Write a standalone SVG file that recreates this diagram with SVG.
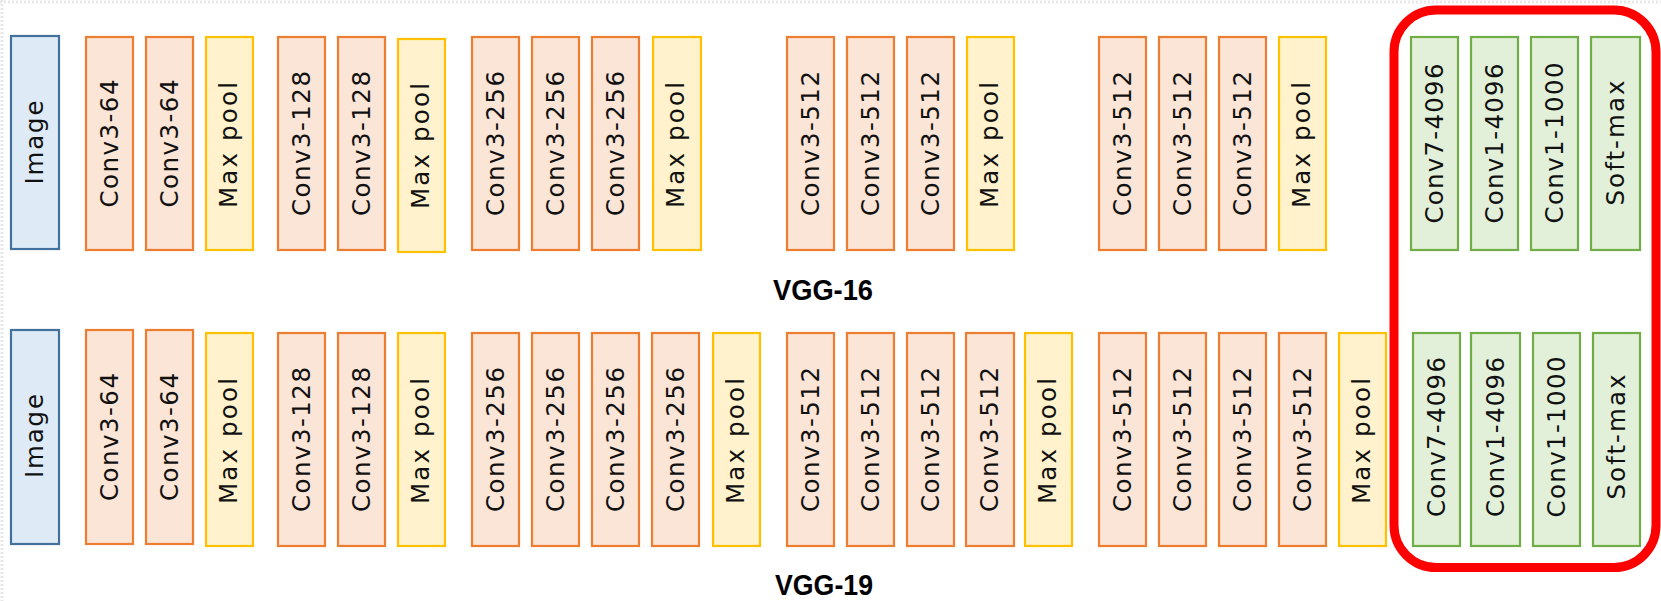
<svg xmlns="http://www.w3.org/2000/svg" width="1661" height="601" viewBox="0 0 1661 601">
<style>
  .conv rect{fill:#FBE5D6;stroke:#ED7D31;stroke-width:2.2}
  .pool rect{fill:#FFF2CC;stroke:#FFC000;stroke-width:2.2}
  .img rect{fill:#DEEBF7;stroke:#41719C;stroke-width:2.2}
  .fc rect{fill:#E2F0D9;stroke:#70AD47;stroke-width:2.2}
  text.lbl{font-family:"DejaVu Sans","Liberation Sans",Arial,sans-serif;font-size:24.5px;fill:#111;text-anchor:middle}
  text.title{font-family:"Liberation Sans",Arial,sans-serif;font-size:29px;font-weight:bold;fill:#000;text-anchor:middle}
  .frame{fill:none;stroke:#FF0000;stroke-width:9}
  .edge{stroke:#e8e8e8;stroke-width:3;stroke-dasharray:2 2;fill:none}
</style>
<rect x="0" y="0" width="1661" height="601" fill="#ffffff"/>
<g id="border-artifacts">
  <line class="edge" x1="0" y1="2" x2="1661" y2="2"/>
  <line class="edge" x1="2" y1="0" x2="2" y2="601"/>
</g>

<!-- VGG-16 row -->
<g id="vgg16">
  <g id="r1-image" class="img"><rect x="11" y="36" width="48" height="213"/><text class="lbl" transform="translate(35,142.5) rotate(-90)" y="8" textLength="84" lengthAdjust="spacing">Image</text></g>
  <g id="r1-c1" class="conv"><rect x="86" y="37" width="47" height="213"/><text class="lbl" transform="translate(109.5,143.5) rotate(-90)" y="8" textLength="128" lengthAdjust="spacing">Conv3-64</text></g>
  <g id="r1-c2" class="conv"><rect x="146" y="37" width="47" height="213"/><text class="lbl" transform="translate(169.5,143.5) rotate(-90)" y="8" textLength="128" lengthAdjust="spacing">Conv3-64</text></g>
  <g id="r1-p1" class="pool"><rect x="206" y="37" width="47" height="213"/><text class="lbl" transform="translate(229.5,145) rotate(-90)" y="7" textLength="126" lengthAdjust="spacing">Max pool</text></g>
  <g id="r1-c3" class="conv"><rect x="278" y="37" width="47" height="213"/><text class="lbl" transform="translate(301.5,143.5) rotate(-90)" y="8" textLength="145" lengthAdjust="spacing">Conv3-128</text></g>
  <g id="r1-c4" class="conv"><rect x="338" y="37" width="47" height="213"/><text class="lbl" transform="translate(361.5,143.5) rotate(-90)" y="8" textLength="145" lengthAdjust="spacing">Conv3-128</text></g>
  <g id="r1-p2" class="pool"><rect x="398" y="39" width="47" height="213"/><text class="lbl" transform="translate(421.5,146) rotate(-90)" y="7" textLength="126" lengthAdjust="spacing">Max pool</text></g>
  <g id="r1-c5" class="conv"><rect x="472" y="37" width="47" height="213"/><text class="lbl" transform="translate(495.5,143.5) rotate(-90)" y="8" textLength="145" lengthAdjust="spacing">Conv3-256</text></g>
  <g id="r1-c6" class="conv"><rect x="532" y="37" width="47" height="213"/><text class="lbl" transform="translate(555.5,143.5) rotate(-90)" y="8" textLength="145" lengthAdjust="spacing">Conv3-256</text></g>
  <g id="r1-c7" class="conv"><rect x="592" y="37" width="47" height="213"/><text class="lbl" transform="translate(615.5,143.5) rotate(-90)" y="8" textLength="145" lengthAdjust="spacing">Conv3-256</text></g>
  <g id="r1-p3" class="pool"><rect x="653" y="37" width="48" height="213"/><text class="lbl" transform="translate(677,145) rotate(-90)" y="7" textLength="126" lengthAdjust="spacing">Max pool</text></g>
  <g id="r1-c8" class="conv"><rect x="787" y="37" width="47" height="213"/><text class="lbl" transform="translate(810.5,143.5) rotate(-90)" y="8" textLength="145" lengthAdjust="spacing">Conv3-512</text></g>
  <g id="r1-c9" class="conv"><rect x="847" y="37" width="47" height="213"/><text class="lbl" transform="translate(870.5,143.5) rotate(-90)" y="8" textLength="145" lengthAdjust="spacing">Conv3-512</text></g>
  <g id="r1-c10" class="conv"><rect x="907" y="37" width="47" height="213"/><text class="lbl" transform="translate(930.5,143.5) rotate(-90)" y="8" textLength="145" lengthAdjust="spacing">Conv3-512</text></g>
  <g id="r1-p4" class="pool"><rect x="967" y="37" width="47" height="213"/><text class="lbl" transform="translate(990.5,145) rotate(-90)" y="7" textLength="126" lengthAdjust="spacing">Max pool</text></g>
  <g id="r1-c11" class="conv"><rect x="1099" y="37" width="47" height="213"/><text class="lbl" transform="translate(1122.5,143.5) rotate(-90)" y="8" textLength="145" lengthAdjust="spacing">Conv3-512</text></g>
  <g id="r1-c12" class="conv"><rect x="1159" y="37" width="47" height="213"/><text class="lbl" transform="translate(1182.5,143.5) rotate(-90)" y="8" textLength="145" lengthAdjust="spacing">Conv3-512</text></g>
  <g id="r1-c13" class="conv"><rect x="1219" y="37" width="47" height="213"/><text class="lbl" transform="translate(1242.5,143.5) rotate(-90)" y="8" textLength="145" lengthAdjust="spacing">Conv3-512</text></g>
  <g id="r1-p5" class="pool"><rect x="1279" y="37" width="47" height="213"/><text class="lbl" transform="translate(1302.5,145) rotate(-90)" y="7" textLength="126" lengthAdjust="spacing">Max pool</text></g>
  <g id="r1-f1" class="fc"><rect x="1411" y="37" width="47" height="213"/><text class="lbl" transform="translate(1434.5,143.5) rotate(-90)" y="8" textLength="160" lengthAdjust="spacing">Conv7-4096</text></g>
  <g id="r1-f2" class="fc"><rect x="1471" y="37" width="47" height="213"/><text class="lbl" transform="translate(1494.5,143.5) rotate(-90)" y="8" textLength="160" lengthAdjust="spacing">Conv1-4096</text></g>
  <g id="r1-f3" class="fc"><rect x="1531" y="37" width="47" height="213"/><text class="lbl" transform="translate(1554.5,143) rotate(-90)" y="8" textLength="161" lengthAdjust="spacing">Conv1-1000</text></g>
  <g id="r1-f4" class="fc"><rect x="1591" y="37" width="49" height="213"/><text class="lbl" transform="translate(1615.5,143) rotate(-90)" y="8" textLength="125" lengthAdjust="spacing">Soft-max</text></g>
  <text id="vgg16-label" class="title" x="823" y="300" textLength="100" lengthAdjust="spacingAndGlyphs">VGG-16</text>
</g>

<!-- VGG-19 row -->
<g id="vgg19">
  <g id="r2-image" class="img"><rect x="11" y="330" width="48" height="214"/><text class="lbl" transform="translate(35,436) rotate(-90)" y="8" textLength="84" lengthAdjust="spacing">Image</text></g>
  <g id="r2-c1" class="conv"><rect x="86" y="330" width="47" height="214"/><text class="lbl" transform="translate(109.5,437) rotate(-90)" y="8" textLength="128" lengthAdjust="spacing">Conv3-64</text></g>
  <g id="r2-c2" class="conv"><rect x="146" y="330" width="47" height="214"/><text class="lbl" transform="translate(169.5,437) rotate(-90)" y="8" textLength="128" lengthAdjust="spacing">Conv3-64</text></g>
  <g id="r2-p1" class="pool"><rect x="206" y="333" width="47" height="213"/><text class="lbl" transform="translate(229.5,441) rotate(-90)" y="7" textLength="126" lengthAdjust="spacing">Max pool</text></g>
  <g id="r2-c3" class="conv"><rect x="278" y="333" width="47" height="213"/><text class="lbl" transform="translate(301.5,439.5) rotate(-90)" y="8" textLength="145" lengthAdjust="spacing">Conv3-128</text></g>
  <g id="r2-c4" class="conv"><rect x="338" y="333" width="47" height="213"/><text class="lbl" transform="translate(361.5,439.5) rotate(-90)" y="8" textLength="145" lengthAdjust="spacing">Conv3-128</text></g>
  <g id="r2-p2" class="pool"><rect x="398" y="333" width="47" height="213"/><text class="lbl" transform="translate(421.5,441) rotate(-90)" y="7" textLength="126" lengthAdjust="spacing">Max pool</text></g>
  <g id="r2-c5" class="conv"><rect x="472" y="333" width="47" height="213"/><text class="lbl" transform="translate(495.5,439.5) rotate(-90)" y="8" textLength="145" lengthAdjust="spacing">Conv3-256</text></g>
  <g id="r2-c6" class="conv"><rect x="532" y="333" width="47" height="213"/><text class="lbl" transform="translate(555.5,439.5) rotate(-90)" y="8" textLength="145" lengthAdjust="spacing">Conv3-256</text></g>
  <g id="r2-c7" class="conv"><rect x="592" y="333" width="47" height="213"/><text class="lbl" transform="translate(615.5,439.5) rotate(-90)" y="8" textLength="145" lengthAdjust="spacing">Conv3-256</text></g>
  <g id="r2-c8" class="conv"><rect x="652" y="333" width="47" height="213"/><text class="lbl" transform="translate(675.5,439.5) rotate(-90)" y="8" textLength="145" lengthAdjust="spacing">Conv3-256</text></g>
  <g id="r2-p3" class="pool"><rect x="713" y="333" width="47" height="213"/><text class="lbl" transform="translate(736.5,441) rotate(-90)" y="7" textLength="126" lengthAdjust="spacing">Max pool</text></g>
  <g id="r2-c9" class="conv"><rect x="787" y="333" width="47" height="213"/><text class="lbl" transform="translate(810.5,439.5) rotate(-90)" y="8" textLength="145" lengthAdjust="spacing">Conv3-512</text></g>
  <g id="r2-c10" class="conv"><rect x="847" y="333" width="47" height="213"/><text class="lbl" transform="translate(870.5,439.5) rotate(-90)" y="8" textLength="145" lengthAdjust="spacing">Conv3-512</text></g>
  <g id="r2-c11" class="conv"><rect x="907" y="333" width="47" height="213"/><text class="lbl" transform="translate(930.5,439.5) rotate(-90)" y="8" textLength="145" lengthAdjust="spacing">Conv3-512</text></g>
  <g id="r2-c12" class="conv"><rect x="966" y="333" width="48" height="213"/><text class="lbl" transform="translate(990,439.5) rotate(-90)" y="8" textLength="145" lengthAdjust="spacing">Conv3-512</text></g>
  <g id="r2-p4" class="pool"><rect x="1025" y="333" width="47" height="213"/><text class="lbl" transform="translate(1048.5,441) rotate(-90)" y="7" textLength="126" lengthAdjust="spacing">Max pool</text></g>
  <g id="r2-c13" class="conv"><rect x="1099" y="333" width="47" height="213"/><text class="lbl" transform="translate(1122.5,439.5) rotate(-90)" y="8" textLength="145" lengthAdjust="spacing">Conv3-512</text></g>
  <g id="r2-c14" class="conv"><rect x="1159" y="333" width="47" height="213"/><text class="lbl" transform="translate(1182.5,439.5) rotate(-90)" y="8" textLength="145" lengthAdjust="spacing">Conv3-512</text></g>
  <g id="r2-c15" class="conv"><rect x="1219" y="333" width="47" height="213"/><text class="lbl" transform="translate(1242.5,439.5) rotate(-90)" y="8" textLength="145" lengthAdjust="spacing">Conv3-512</text></g>
  <g id="r2-c16" class="conv"><rect x="1279" y="333" width="47" height="213"/><text class="lbl" transform="translate(1302.5,439.5) rotate(-90)" y="8" textLength="145" lengthAdjust="spacing">Conv3-512</text></g>
  <g id="r2-p5" class="pool"><rect x="1339" y="333" width="47" height="213"/><text class="lbl" transform="translate(1362.5,441) rotate(-90)" y="7" textLength="126" lengthAdjust="spacing">Max pool</text></g>
  <g id="r2-f1" class="fc"><rect x="1413" y="333" width="47" height="213"/><text class="lbl" transform="translate(1436.5,437) rotate(-90)" y="8" textLength="160" lengthAdjust="spacing">Conv7-4096</text></g>
  <g id="r2-f2" class="fc"><rect x="1471" y="333" width="49" height="213"/><text class="lbl" transform="translate(1495.5,437) rotate(-90)" y="8" textLength="160" lengthAdjust="spacing">Conv1-4096</text></g>
  <g id="r2-f3" class="fc"><rect x="1533" y="333" width="47" height="213"/><text class="lbl" transform="translate(1556.5,437) rotate(-90)" y="8" textLength="161" lengthAdjust="spacing">Conv1-1000</text></g>
  <g id="r2-f4" class="fc"><rect x="1593" y="333" width="47" height="213"/><text class="lbl" transform="translate(1616.5,437) rotate(-90)" y="8" textLength="125" lengthAdjust="spacing">Soft-max</text></g>
  <text id="vgg19-label" class="title" x="824" y="595" textLength="98" lengthAdjust="spacingAndGlyphs">VGG-19</text>
</g>

<g id="connectors">
  <rect id="fc-highlight" class="frame" x="1394" y="10" width="262" height="557.5" rx="42" ry="42"/>
</g>
</svg>
